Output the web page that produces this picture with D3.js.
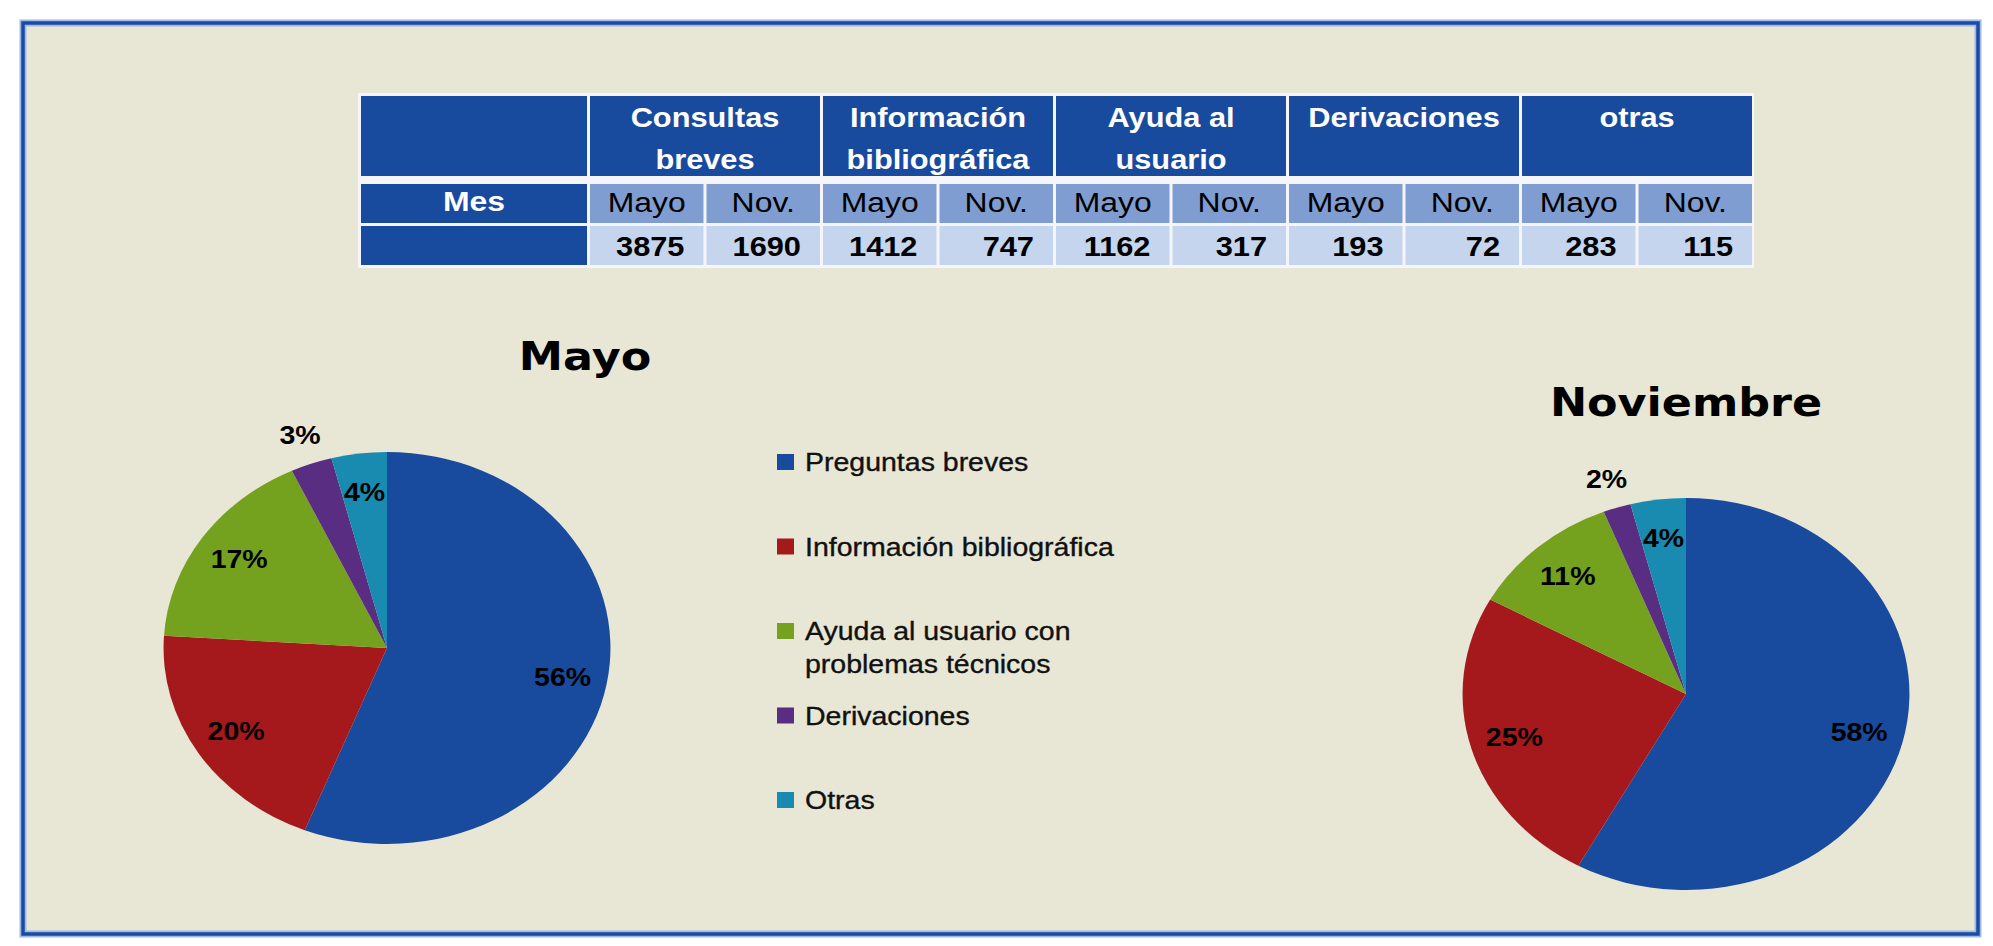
<!DOCTYPE html>
<html>
<head>
<meta charset="utf-8">
<script src="https://cdn.jsdelivr.net/npm/d3@7/dist/d3.min.js"></script>
<style>
body { margin: 0; background: #fff; }
svg { display: block; }
</style>
</head>
<body>
<div class="container"></div>
<script>
// table data
var tableGroups = ["Consultas\nbreves", "Información\nbibliográfica", "Ayuda al\nusuario", "Derivaciones", "otras"];
var months = ["Mayo", "Nov."];
var mayoValues = [3875, 1412, 1162, 193, 283];
var novValues = [1690, 747, 317, 72, 115];

// pie data (percentages as printed on the slices)
var categories = ["Preguntas breves", "Información bibliográfica", "Ayuda al usuario con\nproblemas técnicos", "Derivaciones", "Otras"];
var mayoPct = [56, 20, 17, 3, 4];
var novPct = [58, 25, 11, 2, 4];
var pieTitles = ["Mayo", "Noviembre"];
var colors = ["#184a9e", "#a5191c", "#74a21f", "#582d82", "#198bb0"];

var W = 1993, H = 946;
var sx = 1.14; // the original picture is stretched sideways
var font = "'Liberation Sans', Arial, sans-serif";

var svg = d3.select(".container").append("svg")
    .attr("width", W)
    .attr("height", H);

function place(sel, x, y) {
    return sel.attr("transform", "translate(" + x + "," + y + ") scale(" + sx + ",1)");
}

// frame
svg.append("rect")
    .attr("x", 23).attr("y", 23)
    .attr("width", 1955).attr("height", 911)
    .attr("fill", "#e8e6d5")
    .attr("stroke", "#9db8e2")
    .attr("stroke-width", 7);
svg.append("rect")
    .attr("x", 23).attr("y", 23)
    .attr("width", 1955).attr("height", 911)
    .attr("fill", "none")
    .attr("stroke", "#1b4ba3")
    .attr("stroke-width", 3.5);

// ---------- table ----------
var table = svg.append("g");
var firstCol = [361, 587];
var x = d3.scaleBand()
    .domain(d3.range(tableGroups.length * months.length))
    .range([590, 1752])
    .paddingInner(0.026);
var rows = [{y: 96, h: 80}, {y: 184, h: 39}, {y: 226, h: 39}];

table.append("rect")
    .attr("x", 358).attr("y", 93)
    .attr("width", 1396).attr("height", 175)
    .attr("fill", "#f4f6fb");

rows.forEach(function (r) {
    table.append("rect")
        .attr("x", firstCol[0]).attr("y", r.y)
        .attr("width", firstCol[1] - firstCol[0]).attr("height", r.h)
        .attr("fill", "#184a9e");
});

place(table.append("text"), (firstCol[0] + firstCol[1]) / 2, 211)
    .attr("text-anchor", "middle")
    .attr("font-family", font)
    .attr("font-weight", "bold")
    .attr("font-size", 28)
    .attr("fill", "#fff")
    .text("Mes");

var groups = table.selectAll(".group")
    .data(tableGroups)
    .enter()
    .append("g")
    .classed("group", true);

groups.append("rect")
    .attr("x", function (d, i) { return x(i * 2); })
    .attr("y", rows[0].y)
    .attr("width", function (d, i) { return x(i * 2 + 1) + x.bandwidth() - x(i * 2); })
    .attr("height", rows[0].h)
    .attr("fill", "#184a9e");

groups.each(function (d, i) {
    var cx = x(i * 2) + (x(i * 2 + 1) + x.bandwidth() - x(i * 2)) / 2;
    var g = d3.select(this);
    d.split("\n").forEach(function (line, k) {
        place(g.append("text"), cx, 127 + k * 42)
            .attr("text-anchor", "middle")
            .attr("font-family", font)
            .attr("font-weight", "bold")
            .attr("font-size", 27)
            .attr("fill", "#fff")
            .text(line);
    });
});

var cells = d3.range(tableGroups.length * months.length).map(function (i) {
    var k = Math.floor(i / 2);
    return {
        col: i,
        month: months[i % 2],
        value: i % 2 == 0 ? mayoValues[k] : novValues[k]
    };
});

var sub = table.selectAll(".sub")
    .data(cells)
    .enter()
    .append("g")
    .classed("sub", true);

sub.append("rect")
    .attr("x", function (d) { return x(d.col); })
    .attr("y", rows[1].y)
    .attr("width", x.bandwidth())
    .attr("height", rows[1].h)
    .attr("fill", "#7f9dd0");

sub.append("rect")
    .attr("x", function (d) { return x(d.col); })
    .attr("y", rows[2].y)
    .attr("width", x.bandwidth())
    .attr("height", rows[2].h)
    .attr("fill", "#c6d5ee");

sub.each(function (d) {
    var g = d3.select(this);
    place(g.append("text"), x(d.col) + x.bandwidth() / 2, 212)
        .attr("text-anchor", "middle")
        .attr("font-family", font)
        .attr("font-size", 28)
        .attr("fill", "#000")
        .text(d.month);
    place(g.append("text"), x(d.col) + x.bandwidth() - 19, 256)
        .attr("text-anchor", "end")
        .attr("font-family", font)
        .attr("font-weight", "bold")
        .attr("font-size", 27)
        .attr("fill", "#000")
        .text(d.value);
});

// ---------- pies ----------
var R = 196;
var pie = d3.pie().sort(null).value(function (d) { return d; });
var arc = d3.arc().innerRadius(0).outerRadius(R);

var charts = [
    {title: pieTitles[0], pct: mayoPct, cx: 387, cy: 648, tx: 585, ty: 370},
    {title: pieTitles[1], pct: novPct, cx: 1686, cy: 694, tx: 1686, ty: 416}
];

charts.forEach(function (c) {
    var g = svg.append("g")
        .attr("transform", "translate(" + c.cx + "," + c.cy + ") scale(" + sx + ",1)");
    var arcs = pie(c.pct);
    g.selectAll("path")
        .data(arcs)
        .enter()
        .append("path")
        .attr("d", arc)
        .attr("fill", function (d, i) { return colors[i]; });

    arcs.forEach(function (d) {
        var k = d.data < 3.5 ? 1.15 : 0.8;
        var p = d3.arc().innerRadius(R * k).outerRadius(R * k).centroid(d);
        place(svg.append("text"), c.cx + p[0] * sx, c.cy + p[1])
            .attr("text-anchor", "middle")
            .attr("dominant-baseline", "central")
            .attr("font-family", font)
            .attr("font-weight", "bold")
            .attr("font-size", 25)
            .attr("fill", "#000")
            .text(d.data + "%");
    });

    place(svg.append("text"), c.tx, c.ty)
        .attr("text-anchor", "middle")
        .attr("font-family", "'DejaVu Sans', Verdana, sans-serif")
        .attr("font-weight", "bold")
        .attr("font-size", 39)
        .attr("fill", "#000")
        .text(c.title);
});

// ---------- legend ----------
var ly = d3.scalePoint().domain(d3.range(categories.length)).range([462, 800]);
var legend = svg.selectAll(".legend")
    .data(categories)
    .enter()
    .append("g")
    .classed("legend", true);

legend.append("rect")
    .attr("x", 777)
    .attr("y", function (d, i) { return ly(i) - 8; })
    .attr("width", 17)
    .attr("height", 16)
    .attr("fill", function (d, i) { return colors[i]; });

legend.each(function (d, i) {
    var g = d3.select(this);
    d.split("\n").forEach(function (line, k) {
        place(g.append("text"), 805, ly(i) + 9 + k * 33)
            .attr("font-family", font)
            .attr("font-size", 25)
            .attr("fill", "#111")
            .attr("stroke", "#111")
            .attr("stroke-width", 0.35)
            .text(line);
    });
});
</script>
</body>
</html>
